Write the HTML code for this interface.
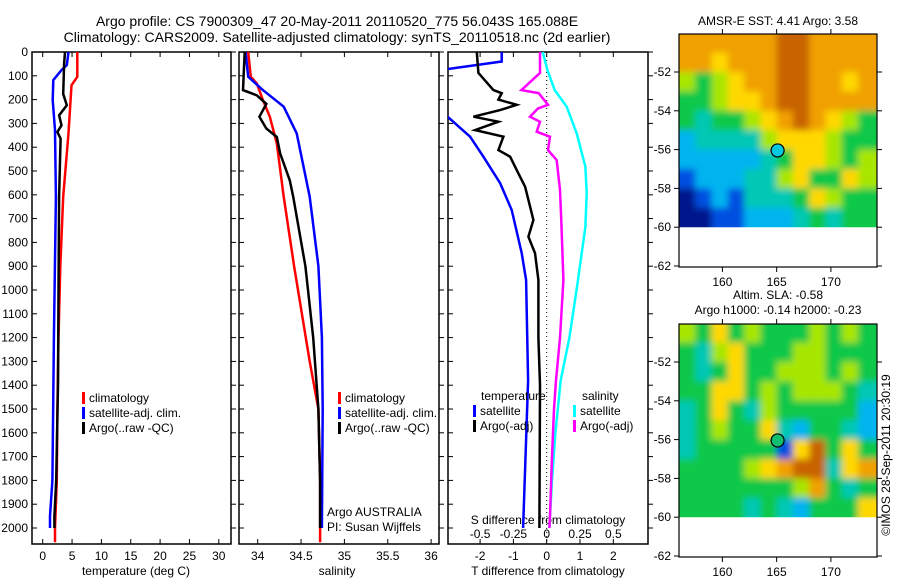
<!DOCTYPE html>
<html><head><meta charset="utf-8"><style>
body{margin:0;background:#fff}
svg{display:block;font-family:"Liberation Sans",sans-serif}
text{font-size:12px;fill:#000}
</style></head><body>
<svg id="fig" width="900" height="580" viewBox="0 0 900 580">
<defs><filter id="blur" x="0" y="0" width="1" height="1"><feGaussianBlur stdDeviation="3.5"/></filter></defs>
<text x="337" y="26" text-anchor="middle" style="font-size:14px">Argo profile: CS 7900309_47 20-May-2011 20110520_775 56.043S 165.088E</text>
<text x="337" y="42" text-anchor="middle" style="font-size:14px">Climatology: CARS2009. Satellite-adjusted climatology: synTS_20110518.nc (2d earlier)</text>
<text x="136" y="575" text-anchor="middle">temperature (deg C)</text>
<text x="337" y="575" text-anchor="middle">salinity</text>
<text x="548" y="575" text-anchor="middle">T difference from climatology</text>
<text x="548" y="524" text-anchor="middle">S difference from climatology</text>
<text x="327" y="516">Argo AUSTRALIA</text>
<text x="327" y="531">PI: Susan Wijffels</text>
<text x="778" y="25" text-anchor="middle">AMSR-E SST: 4.41  Argo: 3.58</text>
<text x="778" y="299" text-anchor="middle">Altim. SLA: -0.58</text>
<text x="778" y="314" text-anchor="middle">Argo h1000: -0.14 h2000: -0.23</text>
<text transform="translate(890,455) rotate(-90)" text-anchor="middle">©IMOS 28-Sep-2011 20:30:19</text>
</svg>
<script>
// ---- profile data ----
const tDepth = [0, 104, 140, 341, 608, 900, 1200, 1500, 1800, 2000, 2060];
const tClim = [5.9, 5.9, 4.9, 4.4, 3.5, 3.0, 2.7, 2.5, 2.4, 2.1, 2.1];
const tSatDepth = [0, 55, 76, 118, 202, 328, 608, 1200, 1800, 1950, 2000];
const tSat = [4.4, 4.1, 3.2, 1.8, 1.7, 2.1, 2.25, 1.9, 1.65, 1.25, 1.25];
const tArgoDepth = [0, 50, 176, 224, 266, 308, 336, 364, 608, 1000, 1400, 1800, 1950, 2000];
const tArgo = [3.8, 3.65, 3.5, 4.1, 2.8, 3.2, 2.5, 3.05, 2.8, 2.7, 2.6, 2.3, 2.0, 2.0];

const sClimDepth = [0, 104, 132, 202, 272, 384, 608, 900, 1300, 1500, 1800, 2060];
const sClim = [33.89, 33.92, 33.99, 34.06, 34.14, 34.22, 34.30, 34.42, 34.6, 34.7, 34.72, 34.72];
const sSatDepth = [0, 104, 160, 230, 342, 608, 900, 1200, 1500, 2000];
const sSat = [33.86, 33.89, 34.06, 34.3, 34.45, 34.6, 34.7, 34.74, 34.75, 34.74];
const sArgoDepth = [0, 160, 182, 218, 272, 322, 357, 427, 540, 608, 900, 1200, 1500, 1800, 2000];
const sArgo = [33.85, 33.83, 33.99, 34.1, 34.02, 34.1, 34.22, 34.26, 34.37, 34.41, 34.55, 34.64, 34.7, 34.72, 34.72];

const dtSatDepth = [0, 40, 76, 244, 356, 440, 551, 664, 845, 958, 1380, 2000];
const dtSat = [-1.35, -1.35, -3.2, -3.2, -2.3, -1.9, -1.4, -1.05, -0.75, -0.62, -0.56, -0.71];
const dtArgoDepth = [0, 88, 160, 173, 200, 222, 244, 272, 293, 328, 356, 412, 440, 510, 566, 706, 776, 845, 958, 1200, 1400, 2000];
const dtArgo = [-2.1, -2.05, -1.6, -1.35, -1.45, -0.9, -1.4, -2.2, -1.45, -2.15, -1.3, -1.45, -1.1, -0.85, -0.65, -0.4, -0.55, -0.35, -0.25, -0.25, -0.2, -0.22];
const dsArgoDepth = [0, 88, 160, 173, 222, 237, 272, 293, 335, 356, 412, 454, 580, 720, 958, 1200, 1380, 1500, 1700, 1950, 2000];
const dsArgo = [-0.05, -0.05, -0.19, -0.06, 0.01, -0.065, -0.125, -0.05, -0.075, 0.025, 0.01, 0.075, 0.1, 0.11, 0.125, 0.1, 0.07, 0.055, 0.04, 0.025, 0.02];
const dsSatDepth = [0, 76, 160, 230, 342, 482, 594, 734, 958, 1200, 1380, 1600, 1800, 2000];
const dsSat = [-0.03, 0.005, 0.06, 0.15, 0.225, 0.29, 0.3, 0.29, 0.235, 0.17, 0.105, 0.065, 0.04, 0.02];

const tTicks = [0, 5, 10, 15, 20, 25, 30];
const sTicks = [34, 34.5, 35, 35.5, 36];
const sTickLabels = ["34", "34.5", "35", "35.5", "36"];
const dtTicks = [-2, -1, 0, 1, 2];
const dsTicks = [-0.5, -0.25, 0, 0.25, 0.5];
const dsTickLabels = ["-0.5", "-0.25", "0", "0.25", "0.5"];
const depthTicks = [0,100,200,300,400,500,600,700,800,900,1000,1100,1200,1300,1400,1500,1600,1700,1800,1900,2000];

// ---- map data (palette index per 1.5° lon x 1° lat cell) ----
const mapLons = [156,157.5,159,160.5,162,163.5,165,166.5,168,169.5,171,172.5];
const mapLats = [-50,-51,-52,-53,-54,-55,-56,-57,-58,-59];
const sstRows = [
 [7,7,7,7,7,7,8,8,7,7,7,7],
 [7,7,6,7,7,7,8,8,7,7,7,7],
 [5,4,5,6,7,7,8,8,7,7,6,7],
 [4,4,5,6,6,7,8,8,7,7,7,7],
 [4,3,4,4,5,6,7,8,7,6,5,4],
 [2,3,3,3,3,5,6,6,6,5,4,4],
 [2,2,2,2,2,3,4,6,6,5,4,5],
 [1,2,2,2,3,3,5,6,4,4,6,5],
 [0,1,2,1,3,3,3,4,6,5,4,4],
 [0,0,1,1,2,2,2,3,4,3,4,4]];
const slaRows = [
 [5,4,6,4,5,4,4,4,5,4,5,4],
 [4,3,5,6,4,4,4,5,5,4,4,4],
 [4,3,4,6,4,4,5,5,5,4,5,4],
 [4,4,6,6,4,5,4,5,5,5,4,3],
 [3,4,6,4,3,5,4,4,4,4,4,2],
 [3,4,5,4,4,6,3,2,4,4,3,2],
 [3,4,4,4,4,4,1,6,8,4,6,4],
 [4,4,4,4,5,6,7,8,8,3,6,7],
 [4,4,4,4,4,4,4,5,7,4,3,4],
 [4,4,4,4,3,4,3,2,4,4,4,6]];
const palette = ["#00148c","#0050e0","#00b4f0","#00c8b4","#10c848","#a8e600","#ffd800","#f0a000","#c86400"];
const argoLon = 165.088, argoLat = -56.043;
const lonTicks = [160, 165, 170];
const latTicks = [-52,-54,-56,-58,-60,-62];

const NS = "http://www.w3.org/2000/svg";
const svg = document.getElementById("fig");
function mk(tag, attrs, parent) {
  const e = document.createElementNS(NS, tag);
  for (const k in attrs) e.setAttribute(k, attrs[k]);
  (parent || svg).appendChild(e);
  return e;
}
const TOP = 52, BOT = 544;
const yDepth = d => TOP + d * 0.238;

function panel(name, x0, x1, xs, ticks, labels, labelY) {
  const g = mk("g", {});
  
  
  const clip = mk("clipPath", {id: "clip-" + name}, g);
  mk("rect", {x: x0, y: TOP, width: x1 - x0, height: BOT - TOP}, clip);
  ticks.forEach((t, i) => {
    const x = xs(t);
    mk("line", {x1: x, x2: x, y1: BOT, y2: BOT - 5, stroke: "#000"}, g);
    mk("line", {x1: x, x2: x, y1: TOP, y2: TOP + 5, stroke: "#000"}, g);
    const tx = mk("text", {x: x, y: labelY, "text-anchor": "middle"}, g);
    tx.textContent = labels[i];
    
    
  });
  depthTicks.forEach(d => {
    const y = yDepth(d);
    mk("line", {x1: x0, x2: x0 + 5, y1: y, y2: y, stroke: "#000"}, g);
    mk("line", {x1: x1, x2: x1 + 5, y1: y, y2: y, stroke: "#000"}, g);
  });
  const r = mk("rect", {x: x0, y: TOP, width: x1 - x0, height: BOT - TOP, fill: "none", stroke: "#000", "stroke-width": 1.5}, g);
  
  
  return g;
}
function line(g, clipId, depths, vals, xs, color, nm) {
  const pts = depths.map((d, i) => xs(vals[i]).toFixed(1) + "," + yDepth(d).toFixed(1)).join(" ");
  const p = mk("polyline", {points: pts, fill: "none", stroke: color, "stroke-width": 2.5, "clip-path": "url(#clip-" + clipId + ")"}, g);
  
  
}
function legend(g, x, y, color, label, nm) {
  mk("rect", {x: x, y: y - 10, width: 3, height: 12, fill: color}, g);
  const t = mk("text", {x: x + 7, y: y}, g);
  t.textContent = label;
  
  
}

depthTicks.forEach(d => {
  const t = mk("text", {x: 28, y: yDepth(d) + 4, "text-anchor": "end"});
  t.textContent = String(d);
  
  
});

const xT = t => 42.7 + t * 5.87;
const p1 = panel("temperature-panel", 32, 231, xT, tTicks, tTicks.map(String), 560);
line(p1, "temperature-panel", tDepth, tClim, xT, "#f00", "temp-climatology-line");
line(p1, "temperature-panel", tSatDepth, tSat, xT, "#00f", "temp-satellite-line");
line(p1, "temperature-panel", tArgoDepth, tArgo, xT, "#000", "temp-argo-line");
legend(p1, 82, 402, "#f00", "climatology", "legend-climatology");
legend(p1, 82, 417, "#00f", "satellite-adj. clim.", "legend-satellite");
legend(p1, 82, 432, "#000", "Argo(..raw -QC)", "legend-argo");

const xS = s => 257.7 + (s - 34) * 86.7;
const p2 = panel("salinity-panel", 239, 439, xS, sTicks, sTickLabels, 560);
line(p2, "salinity-panel", sClimDepth, sClim, xS, "#f00", "sal-climatology-line");
line(p2, "salinity-panel", sSatDepth, sSat, xS, "#00f", "sal-satellite-line");
line(p2, "salinity-panel", sArgoDepth, sArgo, xS, "#000", "sal-argo-line");
legend(p2, 338, 402, "#f00", "climatology", "legend-climatology-2");
legend(p2, 338, 417, "#00f", "satellite-adj. clim.", "legend-satellite-2");
legend(p2, 338, 432, "#000", "Argo(..raw -QC)", "legend-argo-2");

const xDT = t => 546.7 + t * 33.3;
const xDS = s => 546.7 + s * 133.3;
const p3 = panel("difference-panel", 448, 648, xDT, dtTicks, dtTicks.map(String), 560);
dsTicks.forEach((s, i) => {
  const t = mk("text", {x: xDS(s), y: 538, "text-anchor": "middle"}, p3);
  t.textContent = dsTickLabels[i];
  
  
});
mk("line", {x1: xDT(0), x2: xDT(0), y1: TOP, y2: BOT, stroke: "#000", "stroke-dasharray": "1,3"}, p3);
line(p3, "difference-panel", dtSatDepth, dtSat, xDT, "#00f", "tdiff-satellite-line");
line(p3, "difference-panel", dtArgoDepth, dtArgo, xDT, "#000", "tdiff-argo-line");
line(p3, "difference-panel", dsSatDepth, dsSat, xDS, "#0ff", "sdiff-satellite-line");
line(p3, "difference-panel", dsArgoDepth, dsArgo, xDS, "#f0f", "sdiff-argo-line");
const lt = mk("text", {x: 481, y: 400}, p3); lt.textContent = "temperature";


const ls = mk("text", {x: 582, y: 400}, p3); ls.textContent = "salinity";


legend(p3, 473, 415, "#00f", "satellite", "legend-t-satellite");
legend(p3, 473, 430, "#000", "Argo(-adj)", "legend-t-argo");
legend(p3, 573, 415, "#0ff", "satellite", "legend-s-satellite");
legend(p3, 573, 430, "#f0f", "Argo(-adj)", "legend-s-argo");

function map(name, rows, yTop, yRef52) {
  const g = mk("g", {});
  
  
  const xL = lon => 679 + (lon - 156) * 10.85;
  const yL = lat => yRef52 - (lat + 52) * 19.4;
  const yFieldBot = yL(-60);
  const clip = mk("clipPath", {id: "mclip-" + name}, g);
  mk("rect", {x: 679, y: yTop, width: 198, height: yFieldBot - yTop}, clip);
  const outer = mk("g", {"clip-path": "url(#mclip-" + name + ")"}, g);
  const cells = mk("g", {filter: "url(#blur)"}, outer);
  rows.forEach((row, r) => {
    row.forEach((v, c) => {
      const x = c === 0 ? 669 : xL(mapLons[c]);
      const y0 = r === 0 ? yTop - 10 : yL(mapLats[r]);
      const x2 = c === row.length - 1 ? 887 : xL(mapLons[c] + 1.5);
      const y1 = r === rows.length - 1 ? yFieldBot + 10 : yL(mapLats[r] - 1);
      const cell = mk("rect", {x: x, y: y0, width: x2 - x + 0.5, height: y1 - y0 + 0.5, fill: palette[v]}, cells);
      
      
    });
  });
  const yBot = yL(-62) + 1;
  const fr = mk("rect", {x: 679, y: yTop, width: 198, height: yBot - yTop, fill: "none", stroke: "#000", "stroke-width": 1.2}, g);
  
  
  lonTicks.forEach(l => {
    const x = xL(l);
    mk("line", {x1: x, x2: x, y1: yBot, y2: yBot + 5, stroke: "#000"}, g);
    mk("line", {x1: x, x2: x, y1: yTop, y2: yTop - 5, stroke: "#000"}, g);
    const t = mk("text", {x: x, y: yBot + 19, "text-anchor": "middle"}, g);
    t.textContent = String(l);
    
    
  });
  latTicks.forEach(l => {
    const y = yL(l);
    mk("line", {x1: 679, x2: 674, y1: y, y2: y, stroke: "#000"}, g);
    mk("line", {x1: 877, x2: 882, y1: y, y2: y, stroke: "#000"}, g);
    const t = mk("text", {x: 671, y: y + 4, "text-anchor": "end"}, g);
    t.textContent = String(l);
    
    
  });
  const c = mk("circle", {cx: xL(argoLon), cy: yL(argoLat), r: 6.5, fill: name === "sla-map" ? "#10c070" : "#00c8e0", stroke: "#000", "stroke-width": 1.2}, g);
  
  
}
map("sst-map", sstRows, 34, 72);
map("sla-map", slaRows, 324, 362);
</script>
</body></html>
